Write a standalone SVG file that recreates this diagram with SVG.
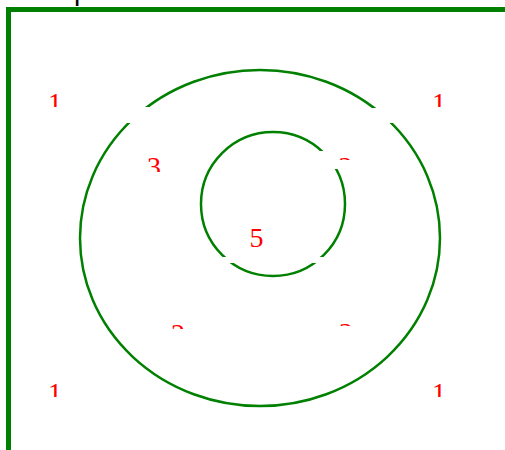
<svg xmlns="http://www.w3.org/2000/svg" width="505" height="450" viewBox="0 0 505 450">
<style>
.set{fill:none;stroke:#008000;stroke-width:2.5}
.gap{fill:#ffffff}
.lbl{font-family:"Liberation Serif","Times New Roman",serif;font-size:28px;fill:#ff0000;text-anchor:middle}
</style>
<defs>
<clipPath id="cTL"><rect x="30" y="80" width="50" height="27"/></clipPath>
<clipPath id="cTR"><rect x="415" y="80" width="50" height="27"/></clipPath>
<clipPath id="cBL"><rect x="30" y="370" width="50" height="27"/></clipPath>
<clipPath id="cBR"><rect x="415" y="370" width="50" height="27"/></clipPath>
<clipPath id="c3"><rect x="130" y="145" width="50" height="27"/></clipPath>
<clipPath id="c2a"><rect x="325" y="145" width="50" height="15"/></clipPath>
<clipPath id="c2b"><rect x="155" y="315" width="50" height="14"/></clipPath>
<clipPath id="c2c"><rect x="325" y="315" width="50" height="11"/></clipPath>
</defs>
<rect width="505" height="450" fill="#ffffff"/>
<text x="74" y="-0.5" font-family="Liberation Sans, Arial, sans-serif" font-size="28" fill="#000000">p</text>
<rect id="frame" x="8.5" y="9.5" width="520" height="470" fill="none" stroke="#008000" stroke-width="5"/>
<g id="outer"><ellipse class="set" cx="260" cy="238" rx="180" ry="168"/></g>
<g id="inner"><circle class="set" cx="273" cy="204" r="72"/></g>
<g id="gaps">
<rect class="gap" x="120" y="107" width="32" height="16"/>
<rect class="gap" x="368" y="108" width="32" height="15"/>
<rect class="gap" x="314" y="151" width="30" height="18"/>
<rect class="gap" x="214" y="257" width="118" height="6"/>
</g>
<g id="labels">
<text class="lbl" x="55" y="112" clip-path="url(#cTL)">1</text>
<text class="lbl" x="439" y="112" clip-path="url(#cTR)">1</text>
<text class="lbl" x="55" y="402" clip-path="url(#cBL)">1</text>
<text class="lbl" x="439" y="402" clip-path="url(#cBR)">1</text>
<text class="lbl" x="154" y="176" clip-path="url(#c3)">3</text>
<text class="lbl" x="345.5" y="176" clip-path="url(#c2a)">2</text>
<text class="lbl" x="178" y="343" clip-path="url(#c2b)">2</text>
<text class="lbl" x="346" y="342" clip-path="url(#c2c)">2</text>
<text class="lbl" x="256.5" y="247">5</text>
</g>
</svg>
